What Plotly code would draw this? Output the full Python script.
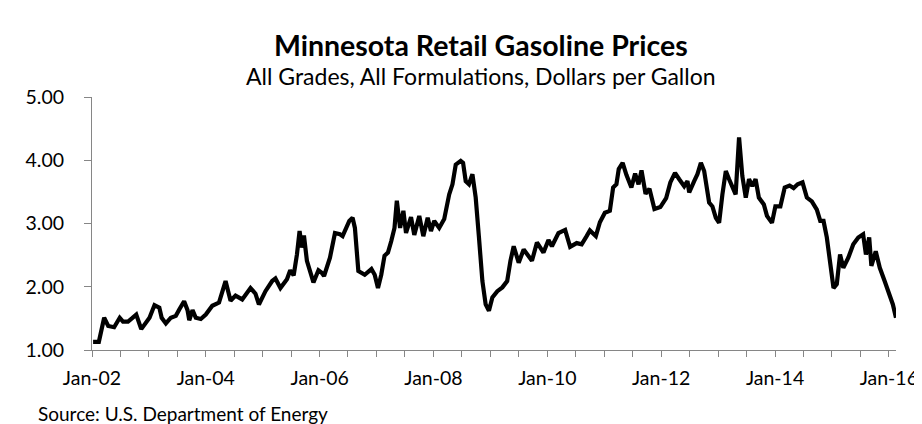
import plotly.graph_objects as go

# Weekly-ish readings of Minnesota retail gasoline price ($/gal)
dates = [
    "2002-01-08", "2002-02-14", "2002-03-20", "2002-04-15", "2002-05-23", "2002-06-28",
    "2002-07-19", "2002-08-20", "2002-09-14", "2002-10-12", "2002-11-13", "2002-12-14",
    "2003-01-05", "2003-02-06", "2003-03-09", "2003-03-24", "2003-04-20", "2003-05-22",
    "2003-06-23", "2003-07-15", "2003-08-15", "2003-09-06", "2003-09-17", "2003-10-08",
    "2003-10-29", "2003-11-30", "2004-01-01", "2004-02-12", "2004-03-26", "2004-05-07",
    "2004-06-08", "2004-07-10", "2004-08-22", "2004-10-14", "2004-11-15", "2004-12-07",
    "2005-01-18", "2005-03-02", "2005-03-23", "2005-04-24", "2005-06-05", "2005-06-26",
    "2005-07-18", "2005-08-08", "2005-08-25", "2005-09-09", "2005-09-22", "2005-10-11",
    "2005-10-30", "2005-11-22", "2005-12-24", "2006-01-14", "2006-01-29", "2006-03-08",
    "2006-04-09", "2006-05-11", "2006-05-28", "2006-06-23", "2006-07-10", "2006-07-31",
    "2006-08-15", "2006-09-06", "2006-10-17", "2006-11-29", "2006-12-20", "2007-01-10",
    "2007-01-31", "2007-02-21", "2007-03-15", "2007-04-05", "2007-04-26", "2007-05-11",
    "2007-06-01", "2007-06-22", "2007-07-09", "2007-08-10", "2007-08-31", "2007-10-02",
    "2007-10-28", "2007-11-25", "2007-12-16", "2008-01-06", "2008-02-07", "2008-03-10",
    "2008-04-11", "2008-05-02", "2008-05-23", "2008-06-24", "2008-07-09", "2008-07-26",
    "2008-08-16", "2008-09-07", "2008-09-28", "2008-10-19", "2008-11-10", "2008-12-01",
    "2008-12-22", "2009-01-13", "2009-02-14", "2009-03-18", "2009-04-18", "2009-05-09",
    "2009-05-30", "2009-07-01", "2009-08-02", "2009-09-24", "2009-10-26", "2009-12-07",
    "2010-01-08", "2010-01-30", "2010-03-13", "2010-04-25", "2010-05-27", "2010-07-08",
    "2010-08-09", "2010-09-10", "2010-10-01", "2010-11-08", "2010-12-04", "2011-01-05",
    "2011-02-06", "2011-02-27", "2011-03-20", "2011-04-04", "2011-04-29", "2011-05-23",
    "2011-06-24", "2011-07-18", "2011-08-09", "2011-08-28", "2011-09-23", "2011-10-18",
    "2011-11-19", "2011-12-27", "2012-02-02", "2012-02-29", "2012-03-30", "2012-04-26",
    "2012-05-28", "2012-06-18", "2012-06-29", "2012-07-31", "2012-08-21", "2012-09-12",
    "2012-10-03", "2012-11-04", "2012-11-25", "2012-12-17", "2013-01-07", "2013-01-28",
    "2013-02-19", "2013-03-12", "2013-04-02", "2013-04-23", "2013-05-15", "2013-06-05",
    "2013-06-27", "2013-07-18", "2013-08-08", "2013-08-29", "2013-09-19", "2013-10-21",
    "2013-11-10", "2013-12-12", "2014-01-03", "2014-02-04", "2014-03-04", "2014-04-04",
    "2014-04-30", "2014-05-26", "2014-06-26", "2014-07-24", "2014-08-25", "2014-09-26",
    "2014-10-18", "2014-11-08", "2014-11-29", "2014-12-21", "2015-01-11", "2015-02-01",
    "2015-02-22", "2015-03-15", "2015-04-16", "2015-05-18", "2015-06-19", "2015-07-20",
    "2015-08-07", "2015-08-28", "2015-09-11", "2015-10-09", "2015-11-04", "2015-12-05",
    "2016-01-06", "2016-01-27", "2016-02-16",
]
prices = [
    1.13, 1.13, 1.51, 1.38, 1.36, 1.51,
    1.45, 1.45, 1.50, 1.56, 1.33, 1.43,
    1.51, 1.71, 1.67, 1.51, 1.42, 1.51,
    1.54, 1.64, 1.77, 1.63, 1.47, 1.63,
    1.51, 1.49, 1.56, 1.70, 1.75, 2.09,
    1.78, 1.86, 1.80, 1.98, 1.89, 1.72,
    1.93, 2.09, 2.13, 1.98, 2.12, 2.26,
    2.18, 2.51, 2.88, 2.62, 2.81, 2.41,
    2.25, 2.07, 2.26, 2.22, 2.17, 2.46,
    2.85, 2.83, 2.80, 2.97, 3.04, 3.09,
    2.93, 2.25, 2.19, 2.28, 2.19, 1.98,
    2.19, 2.49, 2.54, 2.72, 2.93, 3.36,
    2.93, 3.20, 2.85, 3.10, 2.82, 3.12,
    2.80, 3.09, 2.88, 3.04, 2.93, 3.07,
    3.46, 3.62, 3.93, 3.99, 3.96, 3.67,
    3.62, 3.78, 3.41, 2.78, 2.09, 1.72,
    1.62, 1.83, 1.93, 1.99, 2.09, 2.41,
    2.64, 2.38, 2.59, 2.41, 2.70, 2.54,
    2.74, 2.64, 2.85, 2.90, 2.63, 2.69,
    2.67, 2.80, 2.89, 2.80, 3.02, 3.17,
    3.20, 3.57, 3.62, 3.86, 3.96, 3.77,
    3.57, 3.79, 3.62, 3.84, 3.47, 3.55,
    3.23, 3.26, 3.40, 3.65, 3.80, 3.70,
    3.59, 3.67, 3.49, 3.67, 3.78, 3.96,
    3.83, 3.33, 3.27, 3.09, 3.01, 3.46,
    3.83, 3.70, 3.59, 3.46, 4.36, 3.75,
    3.41, 3.70, 3.59, 3.70, 3.41, 3.30,
    3.12, 3.01, 3.27, 3.27, 3.57, 3.60,
    3.56, 3.62, 3.65, 3.41, 3.35, 3.22,
    3.04, 3.04, 2.78, 2.41, 1.98, 2.04,
    2.51, 2.30, 2.46, 2.67, 2.78, 2.83,
    2.51, 2.78, 2.33, 2.56, 2.30, 2.09,
    1.88, 1.72, 1.51,
]

tick_dates = [f"{y}-{m:02d}-01" for y in range(2002, 2017) for m in (1, 7)][:-1]
tick_labels = [f"Jan-{d[2:4]}" if d[5:7] == "01" and int(d[:4]) % 2 == 0 else "" for d in tick_dates]
y_ticks = [1, 2, 3, 4, 5]
y_labels = [f"{v:.2f}" for v in y_ticks]

title = "Minnesota Retail Gasoline Prices"
subtitle = "All Grades, All Formulations, Dollars per Gallon"
source = "Source: U.S. Department of Energy"

W, H = 922, 424
ML, MR, MT, MB = 84, 29, 89, 82
FONT = "Lato, Carlito, 'Noto Sans', sans-serif"
AXC = "#868686"


def px_x(px):
    return (px - ML) / (W - ML - MR)


def px_y(py):
    return (H - MB - py) / (H - MT - MB)


heading = (f"<b><span style='font-size:28.5px'>{title}</span></b><br>"
           f"<span style='font-size:23px'>{subtitle}</span>")

fig = go.Figure()
fig.add_trace(go.Scatter(x=dates, y=prices, mode="lines",
                         line=dict(color="black", width=4.2), hoverinfo="x+y"))

fig.update_layout(
    width=W, height=H,
    margin=dict(l=ML, r=MR, t=MT, b=MB),
    paper_bgcolor="white", plot_bgcolor="white",
    showlegend=False,
    font=dict(family=FONT, color="black"),
    xaxis=dict(
        type="date", range=["2002-01-01", "2016-02-16"],
        tickmode="array", tickvals=tick_dates, ticktext=tick_labels,
        ticks="outside", ticklen=6, tickcolor=AXC, tickwidth=1,
        showline=True, linecolor=AXC, linewidth=1,
        showgrid=False, zeroline=False,
        tickfont=dict(size=19.5, family=FONT, color="black"),
        ticklabelstandoff=5,
    ),
    yaxis=dict(
        range=[1, 5], tickmode="array", tickvals=y_ticks, ticktext=y_labels,
        ticks="outside", ticklen=7, tickcolor=AXC, tickwidth=1,
        showline=True, linecolor=AXC, linewidth=1,
        showgrid=False, zeroline=False,
        tickfont=dict(size=19.5, family=FONT, color="black"),
        ticklabelstandoff=16,
    ),
    annotations=[
        dict(text=heading, x=px_x(475), y=px_y(51), xref="paper", yref="paper",
             xanchor="center", yanchor="middle", showarrow=False, align="center",
             font=dict(size=22, family=FONT, color="black")),
        dict(text=source, x=px_x(28), y=px_y(405), xref="paper", yref="paper",
             xanchor="left", yanchor="middle", showarrow=False,
             font=dict(size=19, family=FONT, color="black")),
    ],
)

fig.write_html("out.html")
